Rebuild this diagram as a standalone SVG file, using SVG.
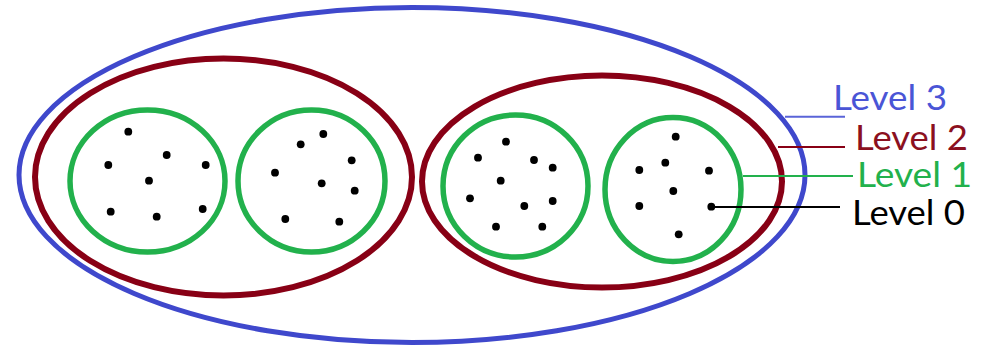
<svg xmlns="http://www.w3.org/2000/svg" width="983" height="347" viewBox="0 0 983 347">
  <style>
    .l3 { fill: none; stroke: #3f48cc; stroke-width: 5; }
    .l2 { fill: none; stroke: #880015; stroke-width: 6; }
    .l1 { fill: none; stroke: #22b14c; stroke-width: 5.5; }
    .pt { fill: #000000; }
    .lbl { font-family: "Lato", "Open Sans", sans-serif; font-size: 34px; }
    .lead { fill: none; stroke-width: 2; }
  </style>
  <rect width="983" height="347" fill="#ffffff"/>

  <g id="level3">
    <ellipse class="l3" cx="412" cy="175" rx="393" ry="167.5"/>
  </g>

  <g id="level2-left">
    <ellipse class="l2" cx="223.5" cy="177" rx="188.5" ry="118.5"/>
  </g>
  <g id="level2-right">
    <ellipse class="l2" cx="602" cy="181.5" rx="180" ry="106"/>
  </g>

  <g id="level1-a">
    <ellipse class="l1" cx="147.5" cy="181" rx="77.5" ry="71"/>
    <g class="pt">
      <circle cx="128.3" cy="131.7" r="3.9"/>
      <circle cx="166.7" cy="155" r="3.9"/>
      <circle cx="108.3" cy="165" r="3.9"/>
      <circle cx="205.7" cy="165" r="3.9"/>
      <circle cx="149" cy="180.7" r="3.9"/>
      <circle cx="110.7" cy="211.7" r="3.9"/>
      <circle cx="156.7" cy="216.7" r="3.9"/>
      <circle cx="202.7" cy="209" r="3.9"/>
    </g>
  </g>

  <g id="level1-b">
    <ellipse class="l1" cx="311.5" cy="181" rx="73.5" ry="71"/>
    <g class="pt">
      <circle cx="323.3" cy="134" r="3.9"/>
      <circle cx="300.7" cy="144.3" r="3.9"/>
      <circle cx="351.7" cy="160.3" r="3.9"/>
      <circle cx="275" cy="172.7" r="3.9"/>
      <circle cx="321.7" cy="183.3" r="3.9"/>
      <circle cx="354.7" cy="190.7" r="3.9"/>
      <circle cx="285.3" cy="219" r="3.9"/>
      <circle cx="339.3" cy="221.7" r="3.9"/>
    </g>
  </g>

  <g id="level1-c">
    <ellipse class="l1" cx="515.5" cy="186" rx="72.5" ry="71"/>
    <g class="pt">
      <circle cx="506" cy="141.7" r="3.9"/>
      <circle cx="478" cy="157.7" r="3.9"/>
      <circle cx="534" cy="160" r="3.9"/>
      <circle cx="552.7" cy="167.7" r="3.9"/>
      <circle cx="500.7" cy="180.7" r="3.9"/>
      <circle cx="470" cy="198.3" r="3.9"/>
      <circle cx="524.3" cy="206" r="3.9"/>
      <circle cx="552.7" cy="201" r="3.9"/>
      <circle cx="496" cy="226.7" r="3.9"/>
      <circle cx="542.3" cy="226.7" r="3.9"/>
    </g>
  </g>

  <g id="level1-d">
    <ellipse class="l1" cx="673" cy="189.5" rx="68" ry="72"/>
    <g class="pt">
      <circle cx="675.7" cy="136.7" r="3.9"/>
      <circle cx="665.3" cy="162.7" r="3.9"/>
      <circle cx="639.3" cy="170" r="3.9"/>
      <circle cx="709" cy="170.7" r="3.9"/>
      <circle cx="673.3" cy="191" r="3.9"/>
      <circle cx="639.3" cy="206" r="3.9"/>
      <circle cx="711.3" cy="206.7" r="3.9"/>
      <circle cx="678.7" cy="234.3" r="3.9"/>
    </g>
  </g>

  <g id="connectors">
    <line class="lead" x1="785" y1="116.7" x2="845" y2="116.7" stroke="#5a64d8"/>
    <line class="lead" x1="778" y1="147" x2="845" y2="147" stroke="#880015"/>
    <line class="lead" x1="743" y1="176" x2="853" y2="176" stroke="#22b14c"/>
    <line class="lead" x1="711" y1="207" x2="840" y2="207" stroke="#000000"/>
  </g>

  <g id="label-level3">
    <text class="lbl" x="833" y="110" fill="#4a55d6" textLength="114" lengthAdjust="spacingAndGlyphs">Level 3</text>
  </g>
  <g id="label-level2">
    <text class="lbl" x="855" y="150" fill="#8b1020" textLength="113" lengthAdjust="spacingAndGlyphs">Level 2</text>
  </g>
  <g id="label-level1">
    <text class="lbl" x="857" y="187" fill="#22b14c" textLength="115" lengthAdjust="spacingAndGlyphs">Level 1</text>
  </g>
  <g id="label-level0">
    <text class="lbl" x="852" y="225" fill="#000000" textLength="113" lengthAdjust="spacingAndGlyphs">Level 0</text>
  </g>
</svg>
